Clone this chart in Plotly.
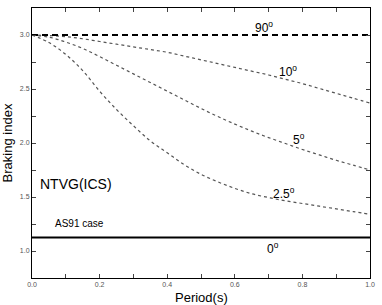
import plotly.graph_objects as go

period = [0.0, 0.05, 0.1, 0.15, 0.2, 0.25, 0.3, 0.35, 0.4, 0.45, 0.5,
          0.55, 0.6, 0.65, 0.7, 0.75, 0.8, 0.85, 0.9, 0.95, 1.0]
n_10deg = [3.0, 2.995, 2.985, 2.965, 2.94, 2.915, 2.89, 2.865, 2.84, 2.805, 2.77,
           2.735, 2.70, 2.665, 2.63, 2.59, 2.55, 2.505, 2.46, 2.415, 2.37]
n_5deg = [3.0, 2.98, 2.935, 2.875, 2.80, 2.72, 2.64, 2.56, 2.48, 2.40, 2.32,
          2.245, 2.175, 2.11, 2.05, 1.995, 1.94, 1.89, 1.84, 1.795, 1.75]
n_2p5deg = [3.0, 2.93, 2.82, 2.67, 2.48, 2.31, 2.16, 2.02, 1.91, 1.80, 1.71,
            1.64, 1.58, 1.53, 1.495, 1.465, 1.44, 1.415, 1.39, 1.365, 1.34]
n_90deg = [3.0, 3.0]
n_0deg = [1.125, 1.125]
x_ends = [0.0, 1.0]

curve_labels = ["90<sup>o</sup>", "10<sup>o</sup>", "5<sup>o</sup>", "2.5<sup>o</sup>", "0<sup>o</sup>"]
label_x = [0.685, 0.758, 0.79, 0.745, 0.712]
label_y = [3.07, 2.67, 2.04, 1.54, 1.025]

fig = go.Figure()
dot = dict(color="#555555", width=1.2, dash="dot")
fig.add_trace(go.Scatter(x=period, y=n_10deg, mode="lines", line=dot, line_shape="spline"))
fig.add_trace(go.Scatter(x=period, y=n_5deg, mode="lines", line=dot, line_shape="spline"))
fig.add_trace(go.Scatter(x=period, y=n_2p5deg, mode="lines", line=dot, line_shape="spline"))
fig.add_trace(go.Scatter(x=x_ends, y=n_90deg, mode="lines",
                         line=dict(color="black", width=1.8, dash="6px,4px")))
fig.add_trace(go.Scatter(x=x_ends, y=n_0deg, mode="lines",
                         line=dict(color="black", width=2)))

for t, xx, yy in zip(curve_labels, label_x, label_y):
    fig.add_annotation(x=xx, y=yy, text=t, showarrow=False,
                       font=dict(size=12, color="black", family="Liberation Sans"))

fig.add_annotation(x=0.131, y=1.62, text="NTVG(ICS)", showarrow=False,
                   font=dict(size=14, color="black", family="Liberation Sans"))
fig.add_annotation(x=0.14, y=1.255, text="AS91 case", showarrow=False,
                   font=dict(size=10, color="black", family="Liberation Sans"))
fig.add_annotation(x=0.5, xref="paper", y=-0.074, yref="paper", yanchor="middle",
                   text="Period(s)", showarrow=False,
                   font=dict(size=13, color="black", family="Liberation Sans"))

axis_common = dict(showgrid=False, zeroline=False, showline=True, linecolor="black",
                   linewidth=1, mirror="allticks", ticks="inside", ticklen=4,
                   tickcolor="#444444", ticklabeloverflow="allow",
                   tickfont=dict(size=7, color="#555555", family="Liberation Sans"))
fig.update_xaxes(range=[0, 1], tickvals=[0, 0.2, 0.4, 0.6, 0.8, 1.0],
                 ticktext=["0.0", "0.2", "0.4", "0.6", "0.8", "1.0"],
                 minor=dict(tickvals=[0.1, 0.3, 0.5, 0.7, 0.9], ticks="inside",
                            ticklen=4, tickcolor="#444444"),
                 **axis_common)
fig.update_yaxes(range=[0.75, 3.25], tickvals=[1.0, 1.5, 2.0, 2.5, 3.0],
                 ticktext=["1.0", "1.5", "2.0", "2.5", "3.0"],
                 minor=dict(tickvals=[1.25, 1.75, 2.25, 2.75], ticks="inside",
                            ticklen=4, tickcolor="#444444"),
                 title=dict(text="Braking index", standoff=4,
                            font=dict(size=13, color="black", family="Liberation Sans")),
                 **axis_common)

fig.update_layout(width=382, height=305, showlegend=False,
                  margin=dict(l=30, r=9, t=7, b=27),
                  plot_bgcolor="white", paper_bgcolor="white")
fig.write_html("out.html", config={"displayModeBar": False},
               post_script="document.body.style.margin='0';")
